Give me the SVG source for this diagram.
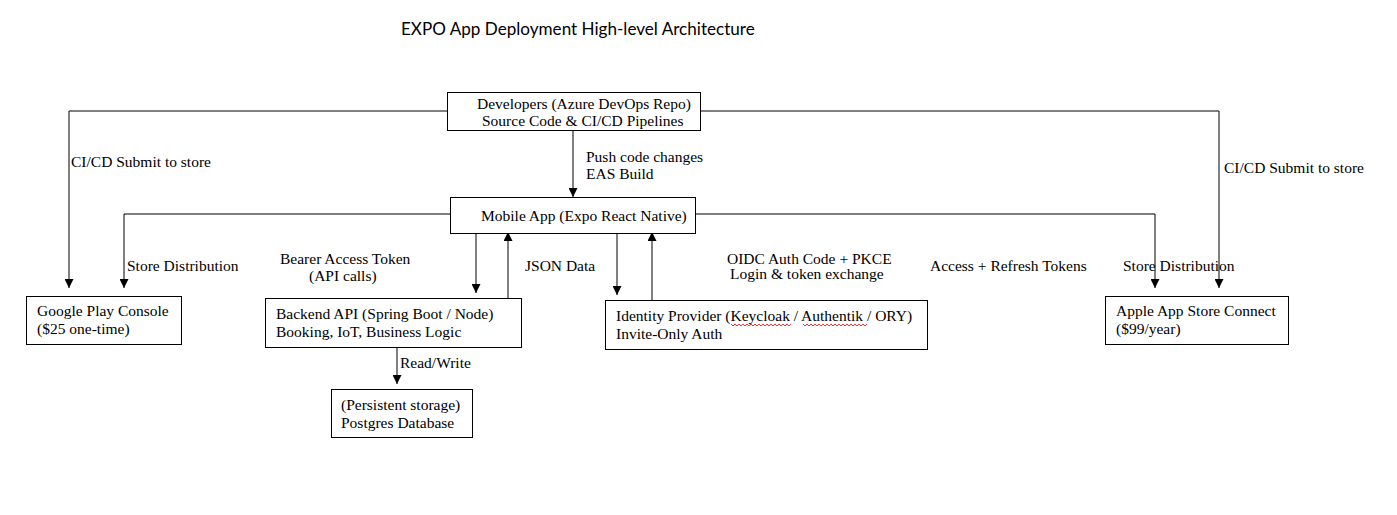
<svg xmlns="http://www.w3.org/2000/svg" width="1397" height="515" viewBox="0 0 1397 515">
<style>
.box{fill:#fff;stroke:#000;stroke-width:1}
.t{font-family:"Liberation Serif","Times New Roman",serif;font-size:15.5px;fill:#000}
.title{font-family:Lato,"Liberation Sans",sans-serif;font-size:17.1px;fill:#000}
.c{fill:none;stroke:#000;stroke-width:1}
.sq{fill:none;stroke:#e00;stroke-width:0.8}
</style>
<defs>
<marker id="ah" viewBox="0 0 10 10" refX="10" refY="5" markerWidth="9" markerHeight="9" markerUnits="userSpaceOnUse" orient="auto">
<path d="M0,0 L10,5 L0,10 Z" fill="#000"/>
</marker>
</defs>
<rect width="1397" height="515" fill="#fff"/>
<text class="title" x="401" y="35">EXPO App Deployment High-level Architecture</text>

<g id="connectors">
<path class="c" d="M447,111 H69 V288" marker-end="url(#ah)"/>
<path class="c" d="M700,111 H1219 V288" marker-end="url(#ah)"/>
<path class="c" d="M573,130 V197" marker-end="url(#ah)"/>
<path class="c" d="M450,214 H124 V288" marker-end="url(#ah)"/>
<path class="c" d="M695,214 H1155 V288" marker-end="url(#ah)"/>
<path class="c" d="M476,233 V293" marker-end="url(#ah)"/>
<path class="c" d="M508,298 V232" marker-end="url(#ah)"/>
<path class="c" d="M617,233 V295" marker-end="url(#ah)"/>
<path class="c" d="M652,300 V232" marker-end="url(#ah)"/>
<path class="c" d="M397,347 V384" marker-end="url(#ah)"/>
<text class="t" x="71" y="167">CI/CD Submit to store</text>
<text class="t" x="1224" y="173">CI/CD Submit to store</text>
<text class="t" x="586" y="162">Push code changes</text>
<text class="t" x="586" y="179">EAS Build</text>
<text class="t" x="127" y="271">Store Distribution</text>
<text class="t" x="280" y="264">Bearer Access Token</text>
<text class="t" x="309" y="281">(API calls)</text>
<text class="t" x="525" y="271">JSON Data</text>
<text class="t" x="727" y="264">OIDC Auth Code + PKCE</text>
<text class="t" x="730" y="279">Login &amp; token exchange</text>
<text class="t" x="930" y="271">Access + Refresh Tokens</text>
<text class="t" x="1123" y="271">Store Distribution</text>
<text class="t" x="400" y="368">Read/Write</text>
</g>

<g id="developers">
<rect class="box" x="447.5" y="92.5" width="253" height="38"/>
<text class="t" x="477" y="109">Developers (Azure DevOps Repo)</text>
<text class="t" x="482" y="126">Source Code &amp; CI/CD Pipelines</text>
</g>
<g id="mobile-app">
<rect class="box" x="450.5" y="197.5" width="245" height="36"/>
<text class="t" x="481" y="221">Mobile App (Expo React Native)</text>
</g>
<g id="google-play">
<rect class="box" x="26.5" y="296.5" width="155" height="48"/>
<text class="t" x="37" y="316">Google Play Console</text>
<text class="t" x="37" y="334">($25 one-time)</text>
</g>
<g id="backend-api">
<rect class="box" x="265.5" y="298.5" width="256" height="49"/>
<text class="t" x="276" y="319">Backend API (Spring Boot / Node)</text>
<text class="t" x="276" y="337">Booking, IoT, Business Logic</text>
</g>
<g id="identity-provider">
<rect class="box" x="605.5" y="300.5" width="322" height="49"/>
<text class="t" x="616" y="321">Identity Provider (Keycloak / Authentik / ORY)</text>
<text class="t" x="616" y="339">Invite-Only Auth</text>
<path class="sq" d="M731,324 l2,2 l2,-2 l2,2 l2,-2 l2,2 l2,-2 l2,2 l2,-2 l2,2 l2,-2 l2,2 l2,-2 l2,2 l2,-2 l2,2 l2,-2 l2,2 l2,-2 l2,2 l2,-2 l2,2 l2,-2 l2,2 l2,-2 l2,2 l2,-2 l2,2 l2,-2 l2,2 l2,-2"/>
<path class="sq" d="M803,324 l2,2 l2,-2 l2,2 l2,-2 l2,2 l2,-2 l2,2 l2,-2 l2,2 l2,-2 l2,2 l2,-2 l2,2 l2,-2 l2,2 l2,-2 l2,2 l2,-2 l2,2 l2,-2 l2,2 l2,-2 l2,2 l2,-2 l2,2 l2,-2 l2,2 l2,-2 l2,2 l2,-2 l2,2 l2,-2"/>
</g>
<g id="apple-app-store">
<rect class="box" x="1105.5" y="296.5" width="183" height="48"/>
<text class="t" x="1116" y="316">Apple App Store Connect</text>
<text class="t" x="1116" y="334">($99/year)</text>
</g>
<g id="postgres">
<rect class="box" x="331.5" y="389.5" width="141" height="48"/>
<text class="t" x="341" y="410">(Persistent storage)</text>
<text class="t" x="341" y="428">Postgres Database</text>
</g>
</svg>
